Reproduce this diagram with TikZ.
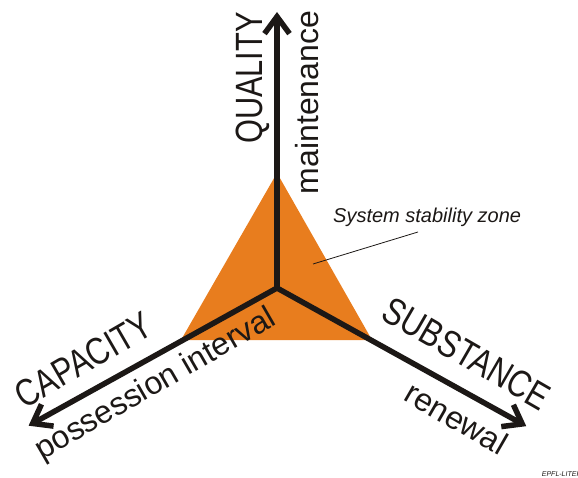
\documentclass[tikz,border=0pt]{standalone}
\usepackage{fontspec}
\usepackage{graphicx}
\usetikzlibrary{arrows.meta}
\setmainfont{Liberation Sans}
\definecolor{zoneorange}{RGB}{232,125,30}
\definecolor{axisdark}{RGB}{28,24,22}
\begin{document}
\begin{tikzpicture}[x=1pt,y=1pt,
  axis/.style={line width=5.5pt, draw=axisdark, -{Straight Barb[length=17pt,width=25pt]}},
  caplabel/.style={inner sep=0pt, text=axisdark, font=\fontsize{38}{40}\selectfont},
  lowlabel/.style={inner sep=0pt, text=axisdark, font=\fontsize{32}{34}\selectfont},
  leader/.style={draw=axisdark, line width=0.8pt}]
\useasboundingbox (0,0) rectangle (578,477);
\clip (0,0) rectangle (578,477);
\coordinate (c) at (277,189);
\fill[zoneorange] (181,137) -- (372,137) -- (277,304) -- cycle;
\draw[axis] (277,186) -- ++(90:279);
\draw[axis] (c) -- ++(209:284);
\draw[axis] (c) -- ++(-29:285);
\node[caplabel, rotate=90, anchor=base] (q) at (262,399) {\scalebox{0.81}[1]{QUALITY}};
\node[lowlabel, rotate=90, anchor=base] (m) at (318,374.5) {maintenance};
\node[caplabel, rotate=30] (cap) at (83.5,117) {\scalebox{0.81}[1]{CAPACITY}};
\node[lowlabel, rotate=30] (poss) at (156,92) {possession interval};
\node[caplabel, rotate=-30] (sub) at (466.5,123.5) {\scalebox{0.81}[1]{SUBSTANCE}};
\node[lowlabel, rotate=-30] (ren) at (456.5,59) {renewal};
\node[inner sep=0pt, anchor=base west, text=axisdark, font=\itshape\fontsize{20}{22}\selectfont] (szone) at (333,254) {System stability zone};
\coordinate (zpt) at (313,213);
\coordinate (lead) at (418,245);
\draw[leader] (zpt) -- (lead);
\node[inner sep=0pt, anchor=base west, text=axisdark, font=\itshape\fontsize{7}{8}\selectfont] (epfl) at (541.7,1) {EPFL-LITEP};
\end{tikzpicture}
\end{document}
